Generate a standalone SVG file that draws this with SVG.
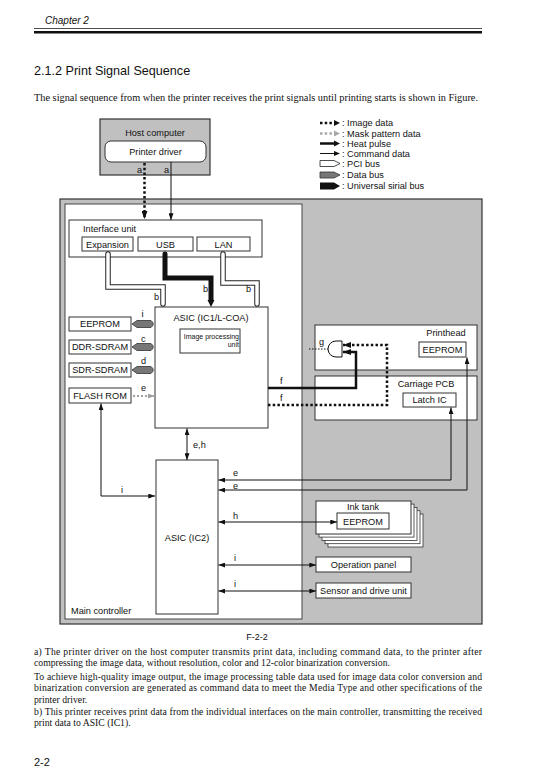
<svg xmlns="http://www.w3.org/2000/svg" width="550" height="770" viewBox="0 0 550 770">
<style>
text{font-family:"Liberation Sans",Arial,sans-serif;font-size:9.2px;fill:#111}
.c{text-anchor:middle}
.s{font-size:7px}
.serif{font-family:"Liberation Serif","Times New Roman",serif;font-size:9.7px}
.box{fill:#fff;stroke:#333;stroke-width:1}
.gray{fill:#c0c0c0;stroke:#333;stroke-width:1.2}
.cmd{fill:none;stroke:#111;stroke-width:1;marker-end:url(#ah)}
.dbl{fill:none;stroke:#111;stroke-width:1;marker-start:url(#ah);marker-end:url(#ah)}
.img{fill:none;stroke:#111;stroke-width:2.5;stroke-dasharray:2.5 2.2}
.heat{fill:none;stroke:#111;stroke-width:2.5}
.pciO{fill:none;stroke:#222;stroke-width:5.5;stroke-linecap:round;stroke-linejoin:miter}
.pciI{fill:none;stroke:#fff;stroke-width:3.5;stroke-linecap:round;stroke-linejoin:miter}
.dbus{fill:#777;stroke:#333;stroke-width:0.8}
</style>
<defs>
<marker id="ah" viewBox="0 0 8 6" refX="8" refY="3" markerWidth="7" markerHeight="5" markerUnits="userSpaceOnUse" orient="auto-start-reverse"><path d="M0,0 L8,3 L0,6 z" fill="#111"/></marker>
<marker id="ahb" viewBox="0 0 8 6" refX="8" refY="3" markerWidth="8" markerHeight="6" markerUnits="userSpaceOnUse" orient="auto"><path d="M0,0 L8,3 L0,6 z" fill="#111"/></marker>
<marker id="ahg" viewBox="0 0 8 6" refX="8" refY="3" markerWidth="7" markerHeight="5" markerUnits="userSpaceOnUse" orient="auto"><path d="M0,0 L8,3 L0,6 z" fill="#a0a0a0"/></marker>
</defs>

<!-- page header -->
<g id="header">
<text x="45" y="24" style="font-size:10px;font-style:italic">Chapter 2</text>
<line x1="34" y1="28.5" x2="482" y2="28.5" stroke="#222" stroke-width="0.8"/>
<line x1="34" y1="32.2" x2="482" y2="32.2" stroke="#111" stroke-width="2.6"/>
<text x="34" y="75" style="font-size:12.6px">2.1.2 Print Signal Sequence</text>
<text x="34" y="101" class="serif" textLength="444" lengthAdjust="spacingAndGlyphs">The signal sequence from when the printer receives the print signals until printing starts is shown in Figure.</text>
</g>

<!-- legend -->
<g id="legend">
<line x1="320" y1="123" x2="334" y2="123" class="img" style="stroke-width:2.5"/>
<path d="M334,120 L340,123 L334,126 z" fill="#111"/>
<text x="342" y="126.3">: Image data</text>
<line x1="320" y1="133.5" x2="334" y2="133.5" class="img" style="stroke:#a8a8a8"/>
<path d="M334,130.5 L340,133.5 L334,136.5 z" fill="#a8a8a8"/>
<text x="342" y="136.8">: Mask pattern data</text>
<line x1="320" y1="143.5" x2="335" y2="143.5" class="heat"/>
<path d="M334,140.5 L340,143.5 L334,146.5 z" fill="#111"/>
<text x="342" y="146.8">: Heat pulse</text>
<line x1="320" y1="153.5" x2="335" y2="153.5" stroke="#111" stroke-width="1"/>
<path d="M334,151 L340,153.5 L334,156 z" fill="#111"/>
<text x="342" y="156.8">: Command data</text>
<path d="M320,160.5 H334 L340,163.5 L334,166.5 H320 Z" fill="#fff" stroke="#222" stroke-width="0.8"/>
<text x="342" y="166.8">: PCI bus</text>
<path d="M320,172 H334 L340,175 L334,178 H320 Z" fill="#777" stroke="#333" stroke-width="0.8"/>
<text x="342" y="178.3">: Data bus</text>
<path d="M320,182.5 H334 L340,186 L334,189.5 H320 Z" fill="#111"/>
<text x="342" y="189.3">: Universal sirial bus</text>
</g>

<!-- host -->
<g id="host">
<rect x="100" y="119" width="110" height="56" class="gray"/>
<text x="155" y="136" class="c">Host computer</text>
</g>
<g id="printer-driver">
<rect x="105" y="141" width="101" height="21" rx="6" class="box"/>
<text x="155.5" y="155" class="c">Printer driver</text>
</g>

<!-- printer outer -->
<g id="printer">
<rect x="60" y="199" width="422" height="425" class="gray"/>
</g>
<g id="main-controller">
<rect x="65" y="204" width="237" height="415" class="box" style="stroke:#444"/>
<text x="71" y="614">Main controller</text>
</g>

<g id="interface-unit">
<rect x="69" y="220" width="193" height="37" class="box"/>
<text x="83" y="232">Interface unit</text>
</g>
<g id="expansion"><rect x="82" y="237" width="51" height="14" class="box"/><text x="107.5" y="247.5" class="c">Expansion</text></g>
<g id="usb"><rect x="138" y="237" width="55" height="14" class="box"/><text x="165.5" y="247.5" class="c">USB</text></g>
<g id="lan"><rect x="197" y="237" width="53" height="14" class="box"/><text x="223.5" y="247.5" class="c">LAN</text></g>

<g id="asic-ic1">
<rect x="155" y="307" width="113" height="121" class="box"/>
<text x="211" y="321" class="c">ASIC (IC1/L-COA)</text>
</g>
<g id="image-processing-unit">
<rect x="180" y="329" width="60" height="24" class="box"/>
<text x="239" y="338.5" class="s" text-anchor="end">Image processing</text>
<text x="239" y="346.5" class="s" text-anchor="end">unit</text>
</g>

<g id="eeprom-mc"><rect x="69" y="317" width="62" height="14" class="box"/><text x="100" y="327.3" class="c">EEPROM</text></g>
<g id="ddr-sdram"><rect x="69" y="340" width="62" height="14" class="box"/><text x="100" y="350.3" class="c">DDR-SDRAM</text></g>
<g id="sdr-sdram"><rect x="69" y="363" width="62" height="14" class="box"/><text x="100" y="373.3" class="c">SDR-SDRAM</text></g>
<g id="flash-rom"><rect x="69" y="388" width="62" height="15" class="box"/><text x="100" y="398.8" class="c">FLASH ROM</text></g>

<g id="asic-ic2">
<rect x="156" y="460" width="62" height="154" class="box"/>
<text x="187" y="541" class="c">ASIC (IC2)</text>
</g>

<g id="printhead">
<rect x="315" y="325" width="162" height="45" class="box"/>
<text x="446" y="336" class="c">Printhead</text>
<path d="M342,341 H336 A8,8 0 0 0 336,357 H342 Z" fill="#fff" stroke="#111" stroke-width="1"/>
</g>
<g id="eeprom-head"><rect x="419" y="342" width="47" height="15" class="box"/><text x="442.5" y="352.8" class="c">EEPROM</text></g>

<g id="carriage-pcb">
<rect x="315" y="376" width="162" height="44" class="box"/>
<text x="426" y="387" class="c">Carriage PCB</text>
</g>
<g id="latch-ic"><rect x="403" y="393" width="53" height="14" class="box"/><text x="429.5" y="403.3" class="c">Latch IC</text></g>

<g id="ink-tank">
<rect x="328" y="514" width="95" height="33" class="box" style="stroke-width:0.8"/>
<rect x="325" y="510.7" width="95" height="33" class="box" style="stroke-width:0.8"/>
<rect x="322" y="507.4" width="95" height="33" class="box" style="stroke-width:0.8"/>
<rect x="319" y="504.1" width="95" height="33" class="box" style="stroke-width:0.8"/>
<rect x="316" y="501" width="95" height="33" class="box"/>
<text x="363" y="510" class="c">Ink tank</text>
</g>
<g id="eeprom-ink"><rect x="337" y="513" width="52" height="16" class="box"/><text x="363" y="524.5" class="c">EEPROM</text></g>

<g id="operation-panel"><rect x="316" y="557" width="95" height="15" class="box"/><text x="363.5" y="568" class="c">Operation panel</text></g>
<g id="sensor-drive"><rect x="316" y="583" width="95" height="15" class="box"/><text x="363.5" y="594" class="c">Sensor and drive unit</text></g>

<!-- connectors -->
<g id="connectors">
<path d="M144.5,163 V219" class="img" marker-end="url(#ahb)"/>
<path d="M171,162 V220" class="cmd"/>
<text x="137" y="173">a</text>
<text x="164" y="173">a</text>

<path d="M108,254 V287 H163 V304" class="pciO"/>
<path d="M108,254 V287 H163 V304" class="pciI"/>
<path d="M223,254 V283 H257 V304" class="pciO"/>
<path d="M223,254 V283 H257 V304" class="pciI"/>
<path d="M165,254 V278 H211 V300" fill="none" stroke="#111" stroke-width="5" stroke-linecap="round" stroke-linejoin="miter"/>
<path d="M207.5,300 L214.5,300 L211,307 z" fill="#111"/>
<text x="154" y="300">b</text>
<text x="203" y="292">b</text>
<text x="246" y="292">b</text>

<path d="M132,324 L137,320.5 H151 Q155.5,324 151,327.5 H137 Z" class="dbus"/>
<path d="M132,347 L137,343.5 H151 Q155.5,347 151,350.5 H137 Z" class="dbus"/>
<path d="M132,370 L137,366.5 H151 Q155.5,370 151,373.5 H137 Z" class="dbus"/>
<text x="141.5" y="317">i</text>
<text x="141" y="342">c</text>
<text x="141" y="364">d</text>
<text x="141" y="391">e</text>
<path d="M133,396 H154.5" fill="none" stroke="#a0a0a0" stroke-width="2" stroke-dasharray="2 2" marker-end="url(#ahg)"/>

<path d="M155,496 H101 V403.5" class="dbl"/>
<text x="121" y="493">i</text>
<path d="M187,428.5 V460" class="dbl"/>
<text x="193" y="448">e,h</text>

<path d="M268,388 H356 V352 H343" class="heat" marker-end="url(#ahb)"/>
<path d="M268,405 H387 V345 H343" class="img" marker-end="url(#ahb)"/>
<text x="280" y="384">f</text>
<text x="280" y="401">f</text>
<path d="M309,349 H328" fill="none" stroke="#111" stroke-width="1.2" stroke-dasharray="1.5 1.5"/>
<text x="319" y="345">g</text>

<path d="M451,407.5 V480 H218.5" class="dbl"/>
<path d="M467,357.5 V490 H218.5" class="dbl"/>
<text x="233" y="476">e</text>
<text x="233" y="489">e</text>
<path d="M218.5,522 H337" class="dbl"/>
<text x="233" y="519">h</text>
<path d="M218.5,565 H316" class="dbl"/>
<text x="234" y="561">i</text>
<path d="M218.5,591 H316" class="dbl"/>
<text x="234" y="587">i</text>
</g>

<!-- caption and body -->
<g id="caption">
<text x="257" y="640" class="c" style="font-size:9px">F-2-2</text>
<text x="34" y="655" class="serif" textLength="448" lengthAdjust="spacing">a) The printer driver on the host computer transmits print data, including command data, to the printer after</text>
<text x="34" y="666" class="serif">compressing the image data, without resolution, color and 12-color binarization conversion.</text>
<text x="34" y="680" class="serif" textLength="448" lengthAdjust="spacing">To achieve high-quality image output, the image processing table data used for image data color conversion and</text>
<text x="34" y="691" class="serif" textLength="448" lengthAdjust="spacing">binarization conversion are generated as command data to meet the Media Type and other specifications of the</text>
<text x="34" y="703" class="serif">printer driver.</text>
<text x="34" y="715" class="serif" textLength="448" lengthAdjust="spacing">b) This printer receives print data from the individual interfaces on the main controller, transmitting the received</text>
<text x="34" y="726" class="serif">print data to ASIC (IC1).</text>
<text x="34" y="766" style="font-size:11px">2-2</text>
</g>
</svg>
